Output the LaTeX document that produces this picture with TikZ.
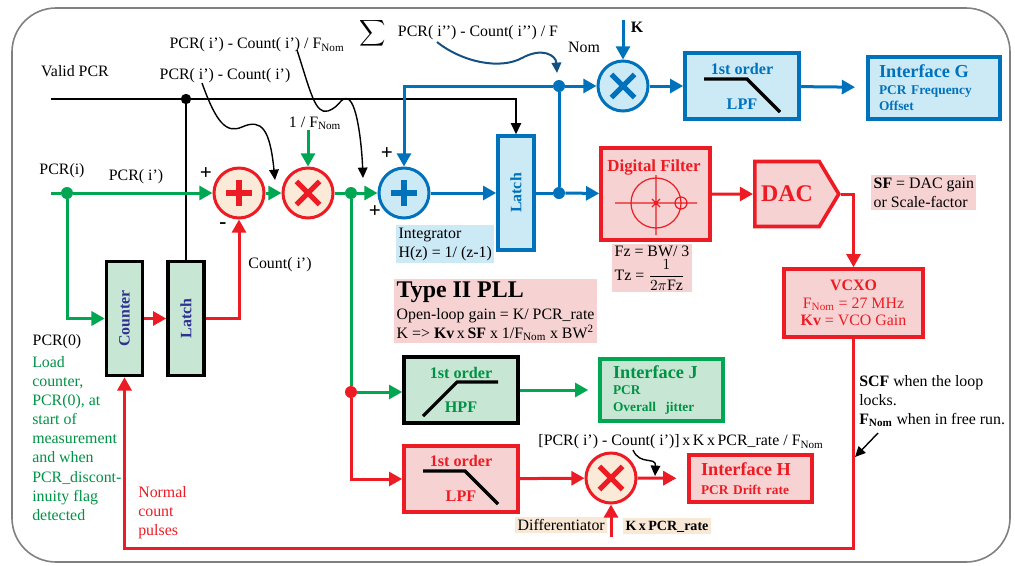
\documentclass[tikz,border=0pt]{standalone}
\usepackage{fontspec}
\setmainfont{Liberation Serif}
\usepackage{graphicx}
\usetikzlibrary{arrows.meta,shapes.symbols}
\definecolor{pllred}{RGB}{237,28,36}
\definecolor{pllgreen}{RGB}{0,166,81}
\definecolor{pllblue}{RGB}{0,114,188}
\definecolor{dkgreen}{RGB}{0,146,69}
\definecolor{navy}{RGB}{46,49,146}
\definecolor{curveblue}{RGB}{20,80,130}
\definecolor{fillblue}{RGB}{204,233,246}
\definecolor{fillpink}{RGB}{246,210,210}
\definecolor{fillgreen}{RGB}{200,230,212}
\definecolor{fillpeach}{RGB}{251,234,216}
\definecolor{fillbeige}{RGB}{249,232,214}
\definecolor{framegray}{RGB}{128,128,128}
\begin{document}
\begin{tikzpicture}[x=0.25mm, y=-0.25mm, font=\fontsize{11.3}{13.6}\selectfont,
  every node/.style={inner sep=0pt},
  arr/.style={-{Triangle[length=3.3mm,width=3.5mm]}},
  grn/.style={draw=pllgreen, line width=0.75mm},
  rd/.style={draw=pllred, line width=0.75mm},
  bl/.style={draw=pllblue, line width=0.75mm},
  blk/.style={draw=black, line width=0.4mm},
  note/.style={draw=#1, line width=0.35mm, -{Triangle[length=2.6mm,width=2.4mm]}},
  note/.default=black,
  junct/.style={circle, fill=#1, minimum size=3mm},
  opnode/.style={circle, draw=#1, fill=fillpeach, line width=0.75mm, minimum size=12.5mm},
  plussym/.style={path picture={\draw[#1, line width=1.5mm] (path picture bounding box.center) +(-3.3mm,0) -- +(3.3mm,0) +(0,-3.3mm) -- +(0,3.3mm);}},
  timessym/.style={path picture={\draw[#1, line width=1.3mm] (path picture bounding box.center) +(-2.9mm,-2.9mm) -- +(2.9mm,2.9mm) +(-2.9mm,2.9mm) -- +(2.9mm,-2.9mm);}},
  tallbox/.style={draw=#1, line width=0.9mm, minimum width=9mm, minimum height=28.5mm, font=\fontsize{11.3}{13.6}\selectfont\bfseries},
  blockbox/.style={draw=#1, line width=0.9mm, minimum width=28.5mm, minimum height=16.5mm},
  iface/.style={draw=#1, line width=0.9mm, text=#1, align=left, font=\bfseries},
  hilite/.style={fill=#1, align=left, inner xsep=0.6mm, inner ysep=0.6mm, anchor=north west},
  ttl/.style={font=\fontsize{11.5}{13}\selectfont\bfseries},
  sgn/.style={font=\fontsize{15}{15}\selectfont\bfseries},
]
\useasboundingbox (0,0) rectangle (1015,565);
\draw[framegray, line width=0.4mm, rounded corners=11mm] (12,8) rectangle (1010,562);

\node[junct=pllgreen] (j1) at (67,193) {};
\node[junct=black, minimum size=2.6mm] (j0) at (186,99) {};
\node[junct=pllgreen] (j2) at (351,193) {};
\node[junct=pllred] (j3) at (351,392) {};
\node[junct=pllblue] (j4) at (559,193) {};
\node[junct=pllblue] (j5) at (559,86) {};

\node[opnode=pllred, plussym=pllred] (add1) at (239,193) {};
\node[opnode=pllred, timessym=pllred] (mul1) at (308,193) {};
\node[opnode=pllblue, fill=fillblue, plussym=pllblue] (add2) at (404,193) {};
\node[opnode=pllblue, fill=fillblue, timessym=pllblue] (mul2) at (623,86) {};
\node[opnode=pllred, timessym=pllred] (mul3) at (611,478) {};

\node[tallbox=black, fill=fillgreen, text=navy] (counter) at (124.5,318.5) {\rotatebox{90}{Counter}};
\node[tallbox=black, fill=fillgreen, text=navy] (latchA) at (186,318.5) {\rotatebox{90}{Latch}};
\node[tallbox=pllblue, fill=fillblue, text=pllblue] (latchB) at (516,193) {\rotatebox{90}{Latch}};

\node[blockbox=pllblue, fill=fillblue] (lpfB) at (742,86) {};
\node[ttl, text=pllblue] (lpfBt) at (742,69) {1st order};
\node[ttl, text=pllblue] (lpfBb) at (742,104) {LPF};
\draw[line width=0.8mm] (704,79) -- (747,79) -- (780,112);

\node[blockbox=black, fill=fillgreen] (hpf) at (461,390) {};
\node[ttl, text=dkgreen] (hpft) at (461,373) {1st order};
\node[ttl, text=dkgreen] (hpfb) at (461,407) {HPF};
\draw[line width=0.8mm] (423,416) -- (457,382) -- (498,382);

\node[blockbox=pllred, fill=fillpink] (lpfR) at (461,479) {};
\node[ttl, text=pllred] (lpfRt) at (461,461) {1st order};
\node[ttl, text=pllred] (lpfRb) at (461,496) {LPF};
\draw[line width=0.8mm] (423,471) -- (465,471) -- (498,504);

\node[iface=pllblue, fill=fillblue, inner xsep=2.75mm, text width=27.5mm, minimum height=15.5mm] (ifG) at (934,88)
  {{\fontsize{13}{15}\selectfont Interface G}\\[1pt]\fontsize{9.5}{10.5}\selectfont PCR Frequency\\Offset};
\node[iface=dkgreen, draw=pllgreen, fill=fillgreen, inner xsep=3.25mm, text width=24.25mm, minimum height=15.5mm] (ifJ) at (661.5,390)
  {{\fontsize{13}{15}\selectfont Interface J}\\[1pt]\fontsize{9.5}{10.5}\selectfont PCR\\Overall\ \ jitter};
\node[iface=pllred, fill=fillpink, inner xsep=3mm, text width=24.75mm, minimum height=11.75mm] (ifH) at (750.5,478.5)
  {{\fontsize{13}{15}\selectfont Interface H}\\[1pt]\fontsize{9.5}{10.5}\selectfont PCR Drift rate};

\node[draw=pllred, line width=0.9mm, fill=fillpink, minimum width=27.25mm, minimum height=23mm] (df) at (655.5,194) {};
\node[text=pllred, font=\fontsize{12}{13}\selectfont\bfseries] (dft) at (654,168) {Digital Filter};
\draw[pllred, line width=0.3mm] (656,203) circle[radius=6.25mm] (615,203) -- (697,203) (656,175) -- (656,235)
  (652,199) -- (660,207) (652,207) -- (660,199) (681,203) circle[radius=1.5mm];

\node[signal, signal to=east, signal pointer angle=118, draw=pllred, line width=0.9mm, fill=fillpink,
  minimum width=21mm, minimum height=16.25mm, anchor=west, text=pllred, font=\fontsize{17}{17}\selectfont\bfseries] (dac) at (753,194) {DAC};
\node[draw=pllred, line width=0.9mm, fill=fillpink, minimum width=34.75mm, minimum height=17mm, text=pllred,
  align=center, font=\fontsize{11.3}{12.5}\selectfont] (vcxo) at (853.5,303)
  {\textbf{VCXO}\\F\textsubscript{Nom} = 27 MHz\\\textbf{Kv} = VCO Gain};

\node[hilite=fillpink] (sfbox) at (871,175) {\textbf{SF} = DAC gain\\or Scale-factor};
\node[hilite=fillpink, inner ysep=0.3mm] (fzbox) at (612,244) {Fz = BW/ 3\\[1.5pt]Tz = $\displaystyle\frac{1}{2\pi\mathrm{Fz}}$};
\node[hilite=fillblue] (integ) at (396,225) {Integrator\\H(z) = 1/ (z-1)};
\node[hilite=fillpink] (pll) at (394,279) {{\fontsize{17}{18}\selectfont\bfseries Type II PLL}\\[2pt]Open-loop gain = K/ PCR\_rate\\K => \textbf{Kv}\,x\,\textbf{SF} x 1/F\textsubscript{Nom} x BW\textsuperscript{2}};
\node[hilite=fillbeige] (diff) at (515,517) {Differentiator};
\node[hilite=fillbeige, font=\bfseries] (kpcr) at (623,518) {K\,x\,PCR\_rate};

\node (validtxt) at (75,71) {Valid PCR};
\node (pcrdiff) at (225,76) {PCR( i’) - Count( i’)};
\node (pcrdiffF) at (257,45) {PCR( i’) - Count( i’) / F\textsubscript{Nom}};
\node (invF) at (315,123) {1 / F\textsubscript{Nom}};
\node (sigma) at (373,33) {\scalebox{1.3}{$\displaystyle\sum$}};
\node (sumtxt) at (478,33) {PCR( i’’) - Count( i’’) / F};
\node (sumnom) at (584,47) {Nom};
\node[font=\fontsize{11.3}{13.6}\selectfont\bfseries] (ktxt) at (637,27) {K};
\node (pcri) at (62,171) {PCR(i)};
\node (pcrip) at (136,177) {PCR( i’)};
\node[sgn] (plusa) at (206,174) {+};
\node[sgn] (minusa) at (223,226) {-};
\node[sgn] (plusb) at (387,154) {+};
\node[sgn] (plusc) at (375,212) {+};
\node (counttxt) at (280,265) {Count( i’)};
\node (pcr0) at (57,342) {PCR(0)};
\node[text=dkgreen, align=left, anchor=north west] (loadtxt) at (32,356)
  {Load\\counter,\\PCR(0), at\\start of\\measurement\\and when\\PCR\_discont-\\inuity flag\\detected};
\node[text=pllred, align=left, anchor=north west] (normtxt) at (138,486) {Normal\\count\\pulses};
\node[align=left, anchor=north west] (scftxt) at (859,375)
  {\textbf{SCF} when the loop\\locks.\\\textbf{F\textsubscript{Nom}} when in free run.};
\node (drifttxt) at (681,442) {[PCR( i’) - Count( i’)]\,x\,K\,x\,PCR\_rate / F\textsubscript{Nom}};

\coordinate (vin) at (51,99);
\coordinate (pin) at (51,193);
\coordinate (invtop) at (308,130);
\coordinate (ktop) at (623,20);
\coordinate (kin) at (611,537);
\coordinate (loopR) at (853.5,548);
\coordinate (c1s) at (202,83);
\coordinate (c1e) at (275,180);
\coordinate (c2s) at (297,50);
\coordinate (c2e) at (363,178);
\coordinate (c3s) at (437,42);
\coordinate (c3e) at (557,73);
\coordinate (c4s) at (633,450);
\coordinate (c4e) at (655,476);
\coordinate (c5s) at (878,433);
\coordinate (c5e) at (855,457);

\draw[blk] (vin) -- (j0);
\draw[blk, -{Triangle[length=2.8mm,width=2.6mm]}] (j0) -- (j0 -| latchB) -- (latchB.north);
\draw[blk] (j0) -- (latchA);

\draw[grn] (pin) -- (j1);
\draw[grn, arr] (j1) -- (add1);
\draw[grn, arr] (j1) |- (counter);
\draw[grn, arr] (add1) -- (mul1);
\draw[grn] (mul1) -- (j2);
\draw[grn, arr] (j2) -- (add2);
\draw[grn, arr] (invtop) -- (mul1);
\draw[grn] (j2) -- (j3);
\draw[grn, arr] (j3) -- (j3 -| hpf.west);
\draw[grn, arr, shorten >=2.5mm] (hpf) -- (ifJ);

\draw[rd, arr] (counter) -- (latchA);
\draw[rd, arr] (latchA) -| (add1);
\draw[rd, arr] (j3) |- (lpfR);
\draw[rd, arr] (lpfR) -- (mul3);
\draw[rd, arr, shorten >=2.7mm] (mul3) -- (ifH);
\draw[rd, arr] (kin) -- (mul3);
\draw[rd, arr] (df) -- (dac);
\draw[rd, arr] (dac.east) -| (vcxo);
\draw[rd, arr] (vcxo) -- (loopR) -| (counter);

\draw[bl, arr] (add2) -- (latchB);
\draw[bl] (latchB) -- (j4);
\draw[bl, arr] (j4) -- (df);
\draw[bl] (j4) -- (j5);
\draw[bl, arr] (j5) -| (add2);
\draw[bl, arr] (j5) -- (mul2);
\draw[bl, arr] (ktop) -- (mul2);
\draw[bl, arr] (mul2) -- (lpfB);
\draw[bl, arr, shorten >=2.8mm] (lpfB) -- (ifG);

\draw[note] (c1s) .. controls (216,122) and (226,134) .. (242,127) .. controls (262,118) and (270,130) .. (c1e);
\draw[note] (c2s) .. controls (310,90) and (315,115) .. (328,111) .. controls (340,107) and (341,96) .. (348,99) .. controls (358,104) and (362,150) .. (c2e);
\draw[note=curveblue, line width=0.5mm] (c3s) .. controls (462,62) and (500,70) .. (522,58) .. controls (542,47) and (556,55) .. (c3e);
\draw[note] (c4s) .. controls (640,466) and (656,456) .. (c4e);
\draw[note] (c5s) -- (c5e);
\end{tikzpicture}
\end{document}
